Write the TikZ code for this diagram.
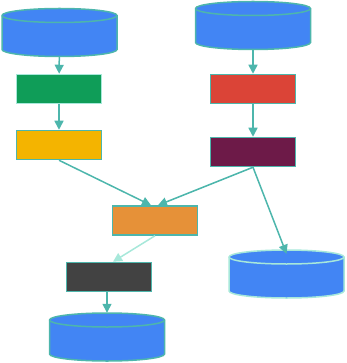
\documentclass[tikz,border=0pt]{standalone}
\usepackage{tikz}
\usetikzlibrary{arrows.meta,positioning}

\definecolor{gblue}{HTML}{4285F4}
\definecolor{ggreen}{HTML}{0F9D58}
\definecolor{gyellow}{HTML}{F4B400}
\definecolor{gred}{HTML}{DB4437}
\definecolor{gplum}{HTML}{6D1A48}
\definecolor{gorange}{HTML}{E69138}
\definecolor{ggray}{HTML}{424242}
\definecolor{teal}{HTML}{4DB6AC}
\definecolor{mint}{HTML}{A7E8DA}

% drum: name, x, y (centre, image coords), border colour
\newcommand\drum[4]{%
  \filldraw[fill=gblue, draw=#4, line width=1.5pt]
    (#2-57.5,#3-17) -- (#2-57.5,#3+17) arc (180:0:57.5 and 7)
    -- (#2+57.5,#3-17) arc (0:-180:57.5 and 7) -- cycle;
  \draw[#4, line width=1.5pt] (#2-57.5,#3-17) arc (180:0:57.5 and 7);
  \node[minimum width=115pt, minimum height=48pt, inner sep=0pt] (#1) at (#2,#3) {};
}

\begin{document}
\begin{tikzpicture}[
  x=1pt, y=-1pt,
  stepbox/.style={draw=teal, line width=1.5pt, minimum width=85pt, minimum height=29pt, inner sep=0pt},
  arrow/.style={-{Triangle[length=9pt,width=9pt]}, line width=1.5pt, draw=teal, fill=teal}
]
\useasboundingbox (0,0) rectangle (346,363);
\drum{left}{59.5}{32.5}{teal}
\drum{right}{253}{25.5}{teal}
\drum{archive}{286.5}{274}{mint}
\drum{output}{107}{337}{teal}
\node[stepbox, fill=ggreen, draw=mint] (ingest) at (59,89) {};
\node[stepbox, fill=gyellow] (parse) at (59,145) {};
\node[stepbox, fill=gred] (fetch) at (253,89) {};
\node[stepbox, fill=gplum] (filter) at (253,152) {};
\node[stepbox, fill=gorange] (merge) at (155,220.5) {};
\node[stepbox, fill=ggray] (export) at (109,277) {};
\draw[arrow] (left) -- (ingest);
\draw[arrow] (ingest) -- (parse);
\draw[arrow] (right) -- (fetch);
\draw[arrow] (fetch) -- (filter);
\draw[arrow] (parse.south) -- ([xshift=-4pt]merge.north);
\draw[arrow] (filter.south) -- ([xshift=3pt]merge.north);
\draw[arrow] (filter.south) -- ([yshift=-4pt]archive.north);
\draw[arrow, draw=mint, fill=mint] (merge.south) -- ([xshift=4pt]export.north);
\draw[arrow] (export.south -| output) -- (output.north);
\end{tikzpicture}
\end{document}
